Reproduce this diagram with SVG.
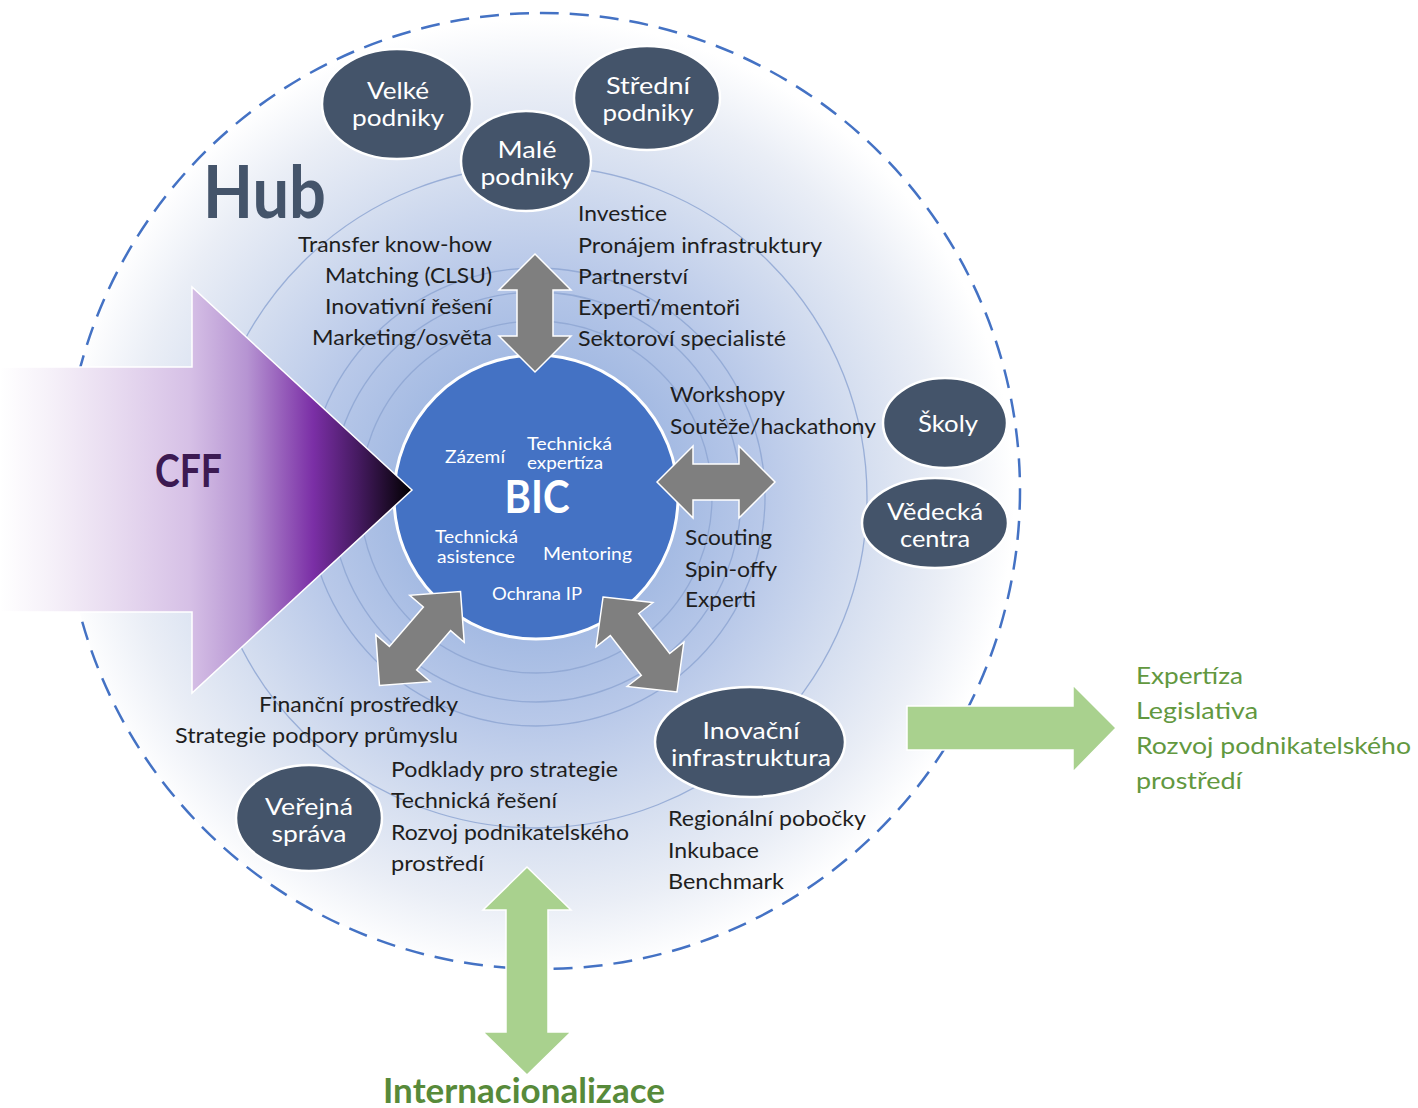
<svg xmlns="http://www.w3.org/2000/svg" width="1418" height="1108" viewBox="0 0 1418 1108">
<defs>
<radialGradient id="bg" gradientUnits="userSpaceOnUse" cx="536" cy="497" r="478">
<stop offset="0" stop-color="#94aedd"/>
<stop offset="0.3" stop-color="#a5bbe3"/>
<stop offset="0.48" stop-color="#b9c9e9"/>
<stop offset="0.7" stop-color="#d6dff0"/>
<stop offset="0.86" stop-color="#eaeef6"/>
<stop offset="1" stop-color="#ffffff"/>
</radialGradient>
<linearGradient id="cff" gradientUnits="userSpaceOnUse" x1="0" y1="0" x2="412" y2="0">
<stop offset="0" stop-color="#ffffff"/>
<stop offset="0.12" stop-color="#f6f1f9"/>
<stop offset="0.3" stop-color="#e6d8ef"/>
<stop offset="0.46" stop-color="#d6c0e6"/>
<stop offset="0.6" stop-color="#b694d2"/>
<stop offset="0.76" stop-color="#7b2fa6"/>
<stop offset="0.87" stop-color="#451a60"/>
<stop offset="1" stop-color="#000000"/>
</linearGradient>
<path id="dbl" d="M-62,0 L-26,-36 L-26,-18 L26,-18 L26,-36 L62,0 L26,36 L26,18 L-26,18 L-26,36 Z"/>
</defs>
<style>
.ring{fill:none;stroke:#8ea6d2;stroke-width:1.3;opacity:0.85}
.node{fill:#44546a;stroke:#ffffff;stroke-width:2.5}
.nt{font-family:Lato,"Liberation Sans",sans-serif;font-size:24px;fill:#ffffff;text-anchor:middle}
.t{font-family:Lato,"Liberation Sans",sans-serif;font-size:22px;fill:#1e1e1e}
.tr{text-anchor:end}
.g{font-family:Lato,"Liberation Sans",sans-serif;font-size:24px;fill:#62983f}
.bt{font-family:Lato,"Liberation Sans",sans-serif;font-size:17px;fill:#ffffff}
.garrow{fill:#7f7f7f;stroke:#ffffff;stroke-width:1.5}
.green{fill:#a9d18e;stroke:#ffffff;stroke-width:1.5}
</style>

<g id="hub-area">
<circle cx="542" cy="491" r="478" fill="url(#bg)"/>
<circle class="ring" cx="536" cy="497" r="176"/>
<circle class="ring" cx="536" cy="497" r="205"/>
<circle class="ring" cx="536" cy="497" r="229"/>
<circle class="ring" cx="536" cy="497" r="331"/>
<circle cx="542" cy="491" r="478" fill="none" stroke="#4472c4" stroke-width="2.5" stroke-dasharray="19 11"/>
<text x="203" y="218" font-family="Lato,'Liberation Sans',sans-serif" font-weight="bold" font-size="72" fill="#44546a" textLength="123" lengthAdjust="spacingAndGlyphs">Hub</text>
</g>

<g id="bic">
<circle cx="536" cy="497" r="142" fill="#4472c4" stroke="#ffffff" stroke-width="3"/>
<text x="537" y="513" text-anchor="middle" font-family="Lato,'Liberation Sans',sans-serif" font-weight="bold" font-size="46" fill="#ffffff" textLength="65" lengthAdjust="spacingAndGlyphs">BIC</text>
<text class="bt" x="445" y="463" textLength="60" lengthAdjust="spacingAndGlyphs">Zázemí</text>
<text class="bt" x="527" y="450" textLength="85" lengthAdjust="spacingAndGlyphs">Technická</text>
<text class="bt" x="527" y="469" textLength="76" lengthAdjust="spacingAndGlyphs">expertíza</text>
<text class="bt" x="435" y="543" textLength="83" lengthAdjust="spacingAndGlyphs">Technická</text>
<text class="bt" x="437" y="563" textLength="78" lengthAdjust="spacingAndGlyphs">asistence</text>
<text class="bt" x="543" y="560" textLength="89" lengthAdjust="spacingAndGlyphs">Mentoring</text>
<text class="bt" x="492" y="600" textLength="90" lengthAdjust="spacingAndGlyphs">Ochrana IP</text>
</g>

<g id="cff">
<path d="M0,367 L192,367 L192,287 L412,490 L192,693 L192,612 L0,612 Z" fill="url(#cff)" stroke="#ffffff" stroke-width="1.5"/>
<text x="155" y="487" font-family="Lato,'Liberation Sans',sans-serif" font-weight="bold" font-size="46" fill="#3c1a52" textLength="67" lengthAdjust="spacingAndGlyphs">CFF</text>
</g>

<g id="connectors">
<path class="garrow" d="M535,254 L571,290 L553,290 L553,336 L571,336 L535,372 L499,336 L517,336 L517,290 L499,290 Z"/>
<path class="garrow" d="M657,482 L693,446 L693,464 L739,464 L739,446 L775,482 L739,518 L739,500 L693,500 L693,518 Z"/>
<use href="#dbl" class="garrow" transform="translate(420,638.5) rotate(-49.2)"/>
<use href="#dbl" class="garrow" transform="translate(640,644.5) rotate(52.1) scale(0.97,1)"/>
<path class="green" d="M907,706 L1073,706 L1073,685 L1116,728 L1073,772 L1073,750 L907,750 Z"/>
<path class="green" d="M527,867 L571,910 L548,910 L548,1032 L571,1032 L527,1075 L483,1032 L506,1032 L506,910 L483,910 Z"/>
</g>

<g id="velke">
<ellipse class="node" cx="397" cy="104" rx="75" ry="55"/>
<text class="nt" x="398" y="99" textLength="62" lengthAdjust="spacingAndGlyphs">Velké</text>
<text class="nt" x="398" y="126" textLength="92" lengthAdjust="spacingAndGlyphs">podniky</text>
</g>
<g id="stredni">
<ellipse class="node" cx="647" cy="98" rx="73" ry="52"/>
<text class="nt" x="648" y="94" textLength="84" lengthAdjust="spacingAndGlyphs">Střední</text>
<text class="nt" x="648" y="121" textLength="91" lengthAdjust="spacingAndGlyphs">podniky</text>
</g>
<g id="male">
<ellipse class="node" cx="526" cy="161" rx="65" ry="50"/>
<text class="nt" x="527" y="158" textLength="59" lengthAdjust="spacingAndGlyphs">Malé</text>
<text class="nt" x="527" y="185" textLength="93" lengthAdjust="spacingAndGlyphs">podniky</text>
</g>
<g id="skoly">
<ellipse class="node" cx="945" cy="423" rx="62" ry="45"/>
<text class="nt" x="948" y="432" textLength="60" lengthAdjust="spacingAndGlyphs">Školy</text>
</g>
<g id="vedecka">
<ellipse class="node" cx="935" cy="523" rx="73" ry="45"/>
<text class="nt" x="935" y="520" textLength="96" lengthAdjust="spacingAndGlyphs">Vědecká</text>
<text class="nt" x="935" y="547" textLength="70" lengthAdjust="spacingAndGlyphs">centra</text>
</g>
<g id="inovacni">
<ellipse class="node" cx="750" cy="742" rx="95" ry="55"/>
<text class="nt" x="751" y="739" textLength="97" lengthAdjust="spacingAndGlyphs">Inovační</text>
<text class="nt" x="751" y="766" textLength="160" lengthAdjust="spacingAndGlyphs">infrastruktura</text>
</g>
<g id="verejna">
<ellipse class="node" cx="309" cy="818" rx="73" ry="53"/>
<text class="nt" x="309" y="815" textLength="88" lengthAdjust="spacingAndGlyphs">Veřejná</text>
<text class="nt" x="309" y="842" textLength="75" lengthAdjust="spacingAndGlyphs">správa</text>
</g>

<g id="labels">
<text class="t tr" x="492" y="252" textLength="194" lengthAdjust="spacingAndGlyphs">Transfer know-how</text>
<text class="t tr" x="492" y="283" textLength="167" lengthAdjust="spacingAndGlyphs">Matching (CLSU)</text>
<text class="t tr" x="492" y="314" textLength="167" lengthAdjust="spacingAndGlyphs">Inovativní řešení</text>
<text class="t tr" x="492" y="345" textLength="180" lengthAdjust="spacingAndGlyphs">Marketing/osvěta</text>
<text class="t" x="578" y="221" textLength="89" lengthAdjust="spacingAndGlyphs">Investice</text>
<text class="t" x="578" y="253" textLength="244" lengthAdjust="spacingAndGlyphs">Pronájem infrastruktury</text>
<text class="t" x="578" y="284" textLength="110" lengthAdjust="spacingAndGlyphs">Partnerství</text>
<text class="t" x="578" y="315" textLength="162" lengthAdjust="spacingAndGlyphs">Experti/mentoři</text>
<text class="t" x="578" y="346" textLength="208" lengthAdjust="spacingAndGlyphs">Sektoroví specialisté</text>
<text class="t" x="670" y="402" textLength="115" lengthAdjust="spacingAndGlyphs">Workshopy</text>
<text class="t" x="670" y="434" textLength="206" lengthAdjust="spacingAndGlyphs">Soutěže/hackathony</text>
<text class="t" x="685" y="545" textLength="87" lengthAdjust="spacingAndGlyphs">Scouting</text>
<text class="t" x="685" y="577" textLength="92" lengthAdjust="spacingAndGlyphs">Spin-offy</text>
<text class="t" x="685" y="607" textLength="71" lengthAdjust="spacingAndGlyphs">Experti</text>
<text class="t tr" x="458" y="712" textLength="199" lengthAdjust="spacingAndGlyphs">Finanční prostředky</text>
<text class="t tr" x="458" y="743" textLength="283" lengthAdjust="spacingAndGlyphs">Strategie podpory průmyslu</text>
<text class="t" x="391" y="777" textLength="227" lengthAdjust="spacingAndGlyphs">Podklady pro strategie</text>
<text class="t" x="391" y="808" textLength="166" lengthAdjust="spacingAndGlyphs">Technická řešení</text>
<text class="t" x="391" y="840" textLength="238" lengthAdjust="spacingAndGlyphs">Rozvoj podnikatelského</text>
<text class="t" x="391" y="871" textLength="93" lengthAdjust="spacingAndGlyphs">prostředí</text>
<text class="t" x="668" y="826" textLength="198" lengthAdjust="spacingAndGlyphs">Regionální pobočky</text>
<text class="t" x="668" y="858" textLength="91" lengthAdjust="spacingAndGlyphs">Inkubace</text>
<text class="t" x="668" y="889" textLength="116" lengthAdjust="spacingAndGlyphs">Benchmark</text>
<text class="g" x="1136" y="684" textLength="107" lengthAdjust="spacingAndGlyphs">Expertíza</text>
<text class="g" x="1136" y="719" textLength="122" lengthAdjust="spacingAndGlyphs">Legislativa</text>
<text class="g" x="1136" y="754" textLength="275" lengthAdjust="spacingAndGlyphs">Rozvoj podnikatelského</text>
<text class="g" x="1136" y="789" textLength="106" lengthAdjust="spacingAndGlyphs">prostředí</text>
<text x="383" y="1103" font-family="Lato,'Liberation Sans',sans-serif" font-weight="bold" font-size="34" fill="#578a3a" textLength="282" lengthAdjust="spacingAndGlyphs">Internacionalizace</text>
</g>
</svg>
